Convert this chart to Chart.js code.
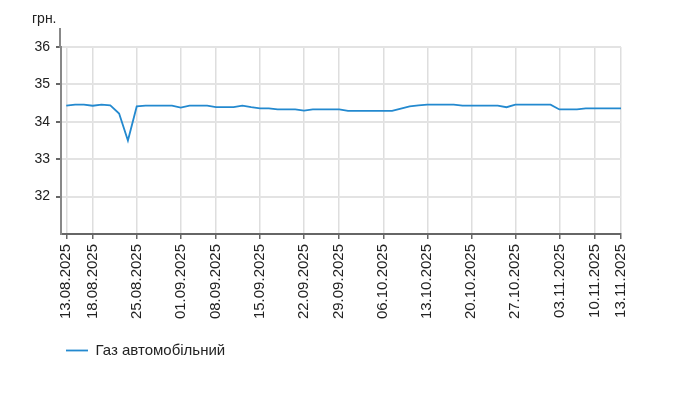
<!DOCTYPE html>
<html>
<head>
<meta charset="utf-8">
<script src="https://cdn.jsdelivr.net/npm/chart.js@4/dist/chart.umd.min.js"></script>
<style>
  body { margin: 0; background: #fff; }
</style>
</head>
<body>
<canvas id="priceChart" width="676" height="396"></canvas>
<script>
const dates = [
  '13.08.2025', '14.08.2025', '15.08.2025',
  '18.08.2025', '19.08.2025', '20.08.2025', '21.08.2025', '22.08.2025',
  '25.08.2025', '26.08.2025', '27.08.2025', '28.08.2025', '29.08.2025',
  '01.09.2025', '02.09.2025', '03.09.2025', '04.09.2025',
  '08.09.2025', '09.09.2025', '10.09.2025', '11.09.2025', '12.09.2025',
  '15.09.2025', '16.09.2025', '17.09.2025', '18.09.2025', '19.09.2025',
  '22.09.2025', '23.09.2025', '24.09.2025', '25.09.2025',
  '29.09.2025', '30.09.2025', '01.10.2025', '02.10.2025', '03.10.2025',
  '06.10.2025', '07.10.2025', '08.10.2025', '09.10.2025', '10.10.2025',
  '13.10.2025', '14.10.2025', '15.10.2025', '16.10.2025', '17.10.2025',
  '20.10.2025', '21.10.2025', '22.10.2025', '23.10.2025', '24.10.2025',
  '27.10.2025', '28.10.2025', '29.10.2025', '30.10.2025', '31.10.2025',
  '03.11.2025', '04.11.2025', '05.11.2025', '06.11.2025',
  '10.11.2025', '11.11.2025', '12.11.2025', '13.11.2025'
];

const gasPrices = [
  34.43, 34.46, 34.46,
  34.43, 34.46, 34.44, 34.22, 33.50,
  34.41, 34.43, 34.43, 34.43, 34.43,
  34.38, 34.43, 34.43, 34.43,
  34.39, 34.39, 34.39, 34.43, 34.39,
  34.36, 34.36, 34.33, 34.33, 34.33,
  34.30, 34.33, 34.33, 34.33,
  34.33, 34.29, 34.29, 34.29, 34.29,
  34.29, 34.29, 34.35, 34.41, 34.44,
  34.46, 34.46, 34.46, 34.46, 34.43,
  34.43, 34.43, 34.43, 34.43, 34.39,
  34.46, 34.46, 34.46, 34.46, 34.46,
  34.33, 34.33, 34.33, 34.36,
  34.36, 34.36, 34.36, 34.36
];

const tickLabels = [
  '13.08.2025', '18.08.2025', '25.08.2025', '01.09.2025', '08.09.2025',
  '15.09.2025', '22.09.2025', '29.09.2025', '06.10.2025', '13.10.2025',
  '20.10.2025', '27.10.2025', '03.11.2025', '10.11.2025', '13.11.2025'
];

const yTicks = [32, 33, 34, 35, 36];
const seriesName = 'Газ автомобільний';
const unit = 'грн.';

const fontFamily = '"Liberation Sans", Arial, sans-serif';
const lineColor = '#2389cf';

// unit caption above the y axis, axis line running past the top grid line,
// and the legend nudged right so it lines up under the plot
const unitLabel = {
  id: 'unitLabel',
  afterLayout(chart) {
    chart.legend.left += 22;
  },
  afterDraw(chart) {
    const { ctx, chartArea } = chart;
    ctx.save();
    ctx.strokeStyle = '#888';
    ctx.lineWidth = 2;
    ctx.beginPath();
    ctx.moveTo(chartArea.left - 1, chartArea.top + 1);
    ctx.lineTo(chartArea.left - 1, 28);
    ctx.stroke();
    ctx.font = '14px ' + fontFamily;
    ctx.fillStyle = '#222';
    ctx.textBaseline = 'alphabetic';
    ctx.fillText(unit, 32, 23);
    ctx.restore();
  }
};

new Chart(document.getElementById('priceChart'), {
  type: 'line',
  data: {
    datasets: [{
      label: seriesName,
      data: gasPrices.map((v, i) => ({ x: i, y: v })),
      borderColor: lineColor,
      backgroundColor: lineColor,
      borderWidth: 1.8,
      pointRadius: 0,
      fill: false,
      tension: 0
    }]
  },
  options: {
    responsive: false,
    animation: false,
    layout: { padding: { left: 34, right: 55, top: 47, bottom: 28 } },
    plugins: {
      legend: {
        position: 'bottom',
        align: 'start',
        labels: {
          usePointStyle: true,
          pointStyle: 'line',
          pointStyleWidth: 22,
          font: { family: fontFamily, size: 15 },
          color: '#222',
          padding: 10
        }
      },
      tooltip: { enabled: false }
    },
    scales: {
      x: {
        type: 'linear',
        min: -0.6,
        max: dates.length - 1,
        afterBuildTicks: (axis) => {
          axis.ticks = tickLabels.map(d => ({ value: dates.indexOf(d) }));
        },
        afterFit: (scale) => { scale.height = 99; },
        ticks: {
          autoSkip: false,
          minRotation: 90,
          maxRotation: 90,
          padding: 5,
          font: { family: fontFamily, size: 15 },
          color: '#222',
          callback: (v) => dates[v]
        },
        grid: { color: '#dedede', lineWidth: 1.5, tickLength: 5, tickColor: '#666' },
        border: { color: '#666', width: 2 }
      },
      y: {
        min: 31,
        max: 36,
        afterBuildTicks: (axis) => {
          axis.ticks = yTicks.map(v => ({ value: v }));
        },
        afterFit: (scale) => { scale.width = 27; },
        ticks: {
          padding: 6,
          font: { family: fontFamily, size: 14 },
          color: '#222'
        },
        grid: { color: '#e3e3e3', lineWidth: 2, tickLength: 5, tickColor: '#666' },
        border: { color: '#888', width: 2 }
      }
    }
  },
  plugins: [unitLabel]
});
</script>
</body>
</html>
